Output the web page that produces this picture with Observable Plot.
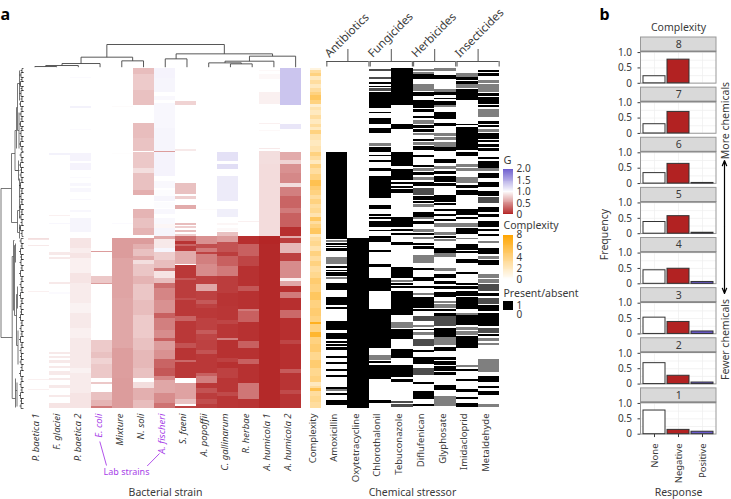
<!DOCTYPE html>
<html><head><meta charset="utf-8">
<script src="https://cdn.jsdelivr.net/npm/d3@7"></script>
<script src="https://cdn.jsdelivr.net/npm/@observablehq/plot@0.6"></script>
<style>
html,body{margin:0;padding:0;background:#fff}
#page{position:relative;width:731px;height:499px;overflow:hidden;background:#fff}
#page svg{position:absolute;left:0;top:0;background:transparent;max-width:none}
</style></head><body><div id="page"></div>
<script>
// ---------- DATA (row stripes: [firstRow, lastRow, value]; unlisted rows are neutral) ----------
const strains = ["P. baetica 1","F. glaciei","P. baetica 2","E. coli","Mixture","N. soli","A. fischeri","S. faeni","A. popoffii","C. gallinarum","R. herbae","A. humicola 1","A. humicola 2"];
const labStrains = ["E. coli","A. fischeri"];
const chemicals = ["Amoxicillin","Oxytetracycline","Chlorothalonil","Tebuconazole","Diflufenican","Glyphosate","Imidacloprid","Metaldehyde"];
const chemicalGroups = ["Antibiotics","Fungicides","Herbicides","Insecticides"];

const pBaetica1 = [[170,172,.85],[171,172,.88],[177,178,.9],[223,224,.93],[311,312,.93],[321,322,.93]];
const fGlaciei = [[85,87,1.08],[147,148,.93],[155,156,1.05],[184,187,.9],[189,191,.9],[214,216,.9],[224,226,1.03],[284,286,.9],[288,290,.9],[292,295,.9],[298,300,.9],[303,307,.9],[310,312,.9],[317,320,.9],[327,329,.9],[335,340,.88]];
const pBaetica2 = [[9,10,1.03],[38,40,1.08],[61,62,1.03],[85,93,1.07],[95,102,1.07],[109,110,1.03],[115,118,1.05],[120,124,1.05],[131,132,1.04],[142,144,1.05],[150,164,1.06],[170,180,.88],[180,185,.92],[185,190,.88],[190,205,.93],[205,215,.88],[215,235,.91],[235,245,.94],[245,260,.9],[260,270,.93],[270,300,.9],[300,305,.94],[305,325,.91],[325,340,.88]];
const eColi = [[183,184,.55],[208,215,.75],[215,216,.55],[272,284,.76],[284,290,.72],[290,296,.8],[296,310,.75],[314,316,.75],[324,332,.72],[332,338,.66],[338,340,.4]];
const mixture = [[38,39,.98],[85,86,.99],[155,156,1.03],[170,190,.55],[190,230,.59],[230,280,.6],[280,310,.56],[310,340,.55]];
const nSoli = [[0,6,.7],[6,22,.76],[22,37,.72],[55,70,.7],[70,83,.73],[84,100,.75],[100,105,.85],[105,122,.72],[122,127,.64],[141,150,.66],[150,160,.72],[160,167,.66],[170,176,.55],[176,181,.64],[181,188,.72],[188,192,.6],[192,196,.85],[196,208,.74],[208,216,.66],[216,232,.74],[232,247,.7],[247,270,.76],[270,282,.72],[282,300,.68],[300,310,.72],[314,320,.85],[320,332,.64],[332,340,.7]];
const aFischeri = [[0,10,1.07],[10,24,1.06],[28,32,1.04],[35,60,1.05],[60,83,1.06],[83,84,.55],[84,108,1.07],[113,120,1.04],[122,128,1.02],[128,133,1.06],[134,140,1.02],[141,146,1.05],[146,150,1.0],[150,156,1.04],[156,160,.96],[160,168,1.06],[168,171,.62],[171,180,.9],[180,184,1.06],[184,192,.78],[192,200,.7],[200,203,.42],[203,210,.88],[210,215,.7],[215,220,.34],[220,232,.45],[232,245,.5],[245,250,.28],[250,262,.42],[262,270,.48],[270,273,.28],[273,282,.55],[282,291,.5],[291,300,.3],[300,308,.24],[308,312,.45],[312,325,.6],[325,335,.48],[335,340,.36]];
const sFaeni = [[33,37,.8],[81,83,.9],[115,126,.72],[128,131,.78],[137,141,.62],[155,157,.7],[158,160,.78],[162,164,.7],[166,168,.78],[168,173,.35],[173,176,.08],[176,178,.3],[178,183,.12],[183,196,.62],[197,210,.1],[210,212,.25],[212,230,.12],[230,232,.2],[232,248,.1],[248,253,.3],[253,275,.1],[275,280,.22],[280,292,.08],[292,294,.32],[294,310,.1],[310,315,1],[315,331,.58],[331,336,.72],[336,338,1],[338,340,.15]];
const aPopoffii = [[141,142,.98],[168,176,.5],[176,180,.2],[180,184,.4],[184,186,.15],[186,196,.42],[196,208,.48],[208,216,.14],[216,223,.6],[223,232,.14],[232,236,.25],[236,240,.14],[240,250,.1],[250,262,.14],[262,266,.26],[266,272,.16],[272,282,.14],[282,286,.22],[286,305,.1],[305,308,.28],[308,315,.42],[315,320,.1],[320,325,.22],[325,331,.12],[331,336,.2],[336,340,.12]];
const cGallinarum = [[84,93,1.18],[96,101,1.2],[108,133,1.12],[141,149,1.1],[155,157,.96],[160,163,.97],[164,168,.72],[168,174,.55],[174,184,.22],[184,188,.12],[188,198,.28],[198,208,.4],[208,225,.12],[225,238,.08],[238,252,.09],[252,256,.16],[256,270,.09],[270,272,.42],[272,290,.07],[290,294,.14],[294,300,.07],[300,310,.14],[310,324,.09],[324,328,.18],[328,340,.09]];
const rHerbae = [[153,154,.93],[168,176,.06],[176,188,.28],[188,198,.16],[198,218,.07],[218,223,.24],[223,241,.07],[241,243,.4],[243,254,.28],[254,273,.07],[273,280,.28],[280,291,.07],[291,296,.28],[296,315,.07],[315,331,.38],[331,340,.08]];
const aHumicola1 = [[2,3,.97],[6,11,.97],[24,36,.93],[55,56,.93],[62,63,.97],[80,81,.9],[83,96,.85],[96,168,.84],[168,176,.02],[176,340,.03]];
const aHumicola2 = [[0,37,1.35],[56,61,1.15],[84,92,.62],[92,96,.8],[96,105,.5],[105,115,.46],[115,119,.85],[119,128,.42],[128,140,.3],[140,145,.4],[145,159,.28],[159,168,.06],[168,170,.62],[170,175,.12],[175,185,.68],[185,193,.14],[193,210,.48],[210,213,.93],[213,218,.6],[218,224,.06],[224,230,.4],[230,242,.06],[242,250,.32],[250,272,.06],[272,276,.16],[276,301,.06],[301,305,.26],[305,322,.08],[322,326,.18],[326,340,.08]];
const strainStripes = [pBaetica1,fGlaciei,pBaetica2,eColi,mixture,nSoli,aFischeri,sFaeni,aPopoffii,cGallinarum,rHerbae,aHumicola1,aHumicola2];

const complexityStripes = [[0,2,1],[2,5,3],[5,8,4],[8,12,2],[12,16,3],[16,20,2],[20,24,3],[24,27,4],[27,32,5],[32,36,4],[36,39,1.5],[39,42,2.5],[42,47,2],[47,51,3],[51,56,2],[56,59,3],[59,62,2],[62,66,4],[66,72,2.5],[72,78,2],[78,84,2.5],[84,88,4],[88,92,3],[92,96,2],[96,100,4],[100,106,3],[106,112,4],[112,118,5.5],[118,122,4.5],[122,127,4],[127,131,3],[131,136,4],[136,140,3],[140,145,3.5],[145,149,2.5],[149,153,5],[153,156,3],[156,160,4],[160,166,5],[166,169,2],[169,173,3],[173,178,3.5],[178,183,2.5],[183,188,4],[188,193,3],[193,198,4],[198,204,3],[204,210,3.5],[210,216,4.5],[216,224,4],[224,232,5],[232,240,4],[240,248,4.5],[248,254,4],[254,256,7],[256,264,4],[264,269,6.5],[269,276,4],[276,284,4.5],[284,292,3.5],[292,300,4.5],[300,308,3.5],[308,314,4],[314,318,2],[318,320,3],[320,323,5.5],[323,328,3],[328,334,3.5],[334,340,3]];

// present rows; third value marks bands of rows too fine to tell apart
const amoxicillin = [[84,171],[172,174,.5],[175,177],[178,179],[180,183],[189,196,.5],[198,200],[202,203],[204,208],[209,211,.5],[215,222],[229,237],[239,241],[253,262],[265,271],[273,275],[276,278],[279,282],[288,290],[294,296],[301,303],[307,309],[319,321],[321,323,.5],[325,327],[332,337]];
const oxytetracycline = [[170,340]];
const chlorothalonil = [[1,3,.7],[9,11,.7],[14,16],[18,19],[20,23,.7],[24,40],[44,45],[50,56],[60,65],[75,78,.5],[79,84],[87,88],[92,94],[100,103],[108,130],[137,141],[146,148],[149,151],[153,159],[162,163],[168,174],[182,184],[196,199],[210,223],[241,280],[287,292,.5],[293,295],[297,311],[332,335]];
const tebuconazole = [[0,37],[56,61],[84,98],[101,112],[114,116],[118,120],[121,125],[149,153],[153,159],[161,163],[165,167],[174,177],[199,210],[212,214,.5],[215,217],[218,220],[223,247],[254,260,.5],[261,271],[281,290],[297,309],[311,314],[333,335,.7],[336,339,.7]];
const diflufenican = [[1,3,.5],[4,6,.5],[6,11],[16,23,.5],[24,28],[32,35],[35,40],[41,44],[48,50],[52,56,.5],[57,60],[61,64],[65,67,.5],[71,73],[74,77,.5],[78,82],[87,89],[97,99],[100,103,.5],[104,107],[109,112,.5],[114,118],[120,127,.7],[128,132],[133,135],[136,139,.5],[144,149],[149,151,.5],[153,156],[161,164,.5],[165,167],[169,171,.5],[175,177],[178,181],[187,195,.5],[200,202],[209,213],[218,220],[225,227,.5],[229,240],[241,243],[248,253,.7],[257,259,.5],[261,262],[264,267,.5],[271,278,.7],[282,284],[289,296],[300,307,.7],[314,316],[323,331],[336,338]];
const glyphosate = [[0,3,.5],[7,11],[21,24,.5],[24,27],[30,31],[33,37],[37,39,.5],[44,51],[55,58],[65,68,.5],[69,72,.5],[74,79,.5],[79,83],[91,95],[98,101,.5],[103,106],[108,114],[115,118],[127,134],[135,137],[141,143],[146,148],[151,153],[155,159,.5],[164,167,.5],[168,170],[171,173,.5],[180,185],[185,189,.5],[200,203,.5],[206,210],[213,216],[218,221],[224,229],[233,235,.5],[236,240,.5],[241,243],[245,248],[248,258,.7],[260,269],[269,277,.5],[279,283],[289,292],[293,297],[298,303],[304,307],[317,322],[328,334,.5],[334,338,.5]];
const imidacloprid = [[5,9,.5],[9,12],[13,16],[16,20,.5],[21,32],[56,57],[59,82],[84,88],[96,99,.5],[100,103,.5],[109,115,.5],[117,120],[122,127],[141,147],[149,151],[155,159,.5],[160,166],[170,171,.5],[176,182],[183,185],[191,195],[204,206],[215,217],[218,221],[223,228],[229,241],[245,247,.5],[247,257],[259,262,.5],[263,267,.5],[268,280],[297,299,.5],[301,303],[311,313],[321,324],[329,331],[335,339]];
const metaldehyde = [[2,4],[5,8],[12,15,.5],[16,24,.5],[25,28],[29,36],[37,39],[41,49,.5],[53,56],[57,59],[61,64,.5],[65,71],[72,74],[76,79],[80,83],[89,91],[93,100],[100,103,.5],[105,110],[114,117],[117,119],[123,128],[129,135,.7],[139,144],[146,149],[153,159],[161,163],[166,168],[173,175,.5],[180,186],[188,191,.5],[192,197],[206,210,.5],[211,215,.5],[216,223,.7],[225,228],[230,236,.7],[237,243],[245,258],[260,265,.7],[266,268],[270,273,.5],[275,277,.5],[291,304,.5],[308,314],[318,320],[323,327],[336,339,.5]];
const chemicalStripes = [amoxicillin,oxytetracycline,chlorothalonil,tebuconazole,diflufenican,glyphosate,imidacloprid,metaldehyde];

// column dendrogram: [left, right, height]; left/right are column numbers or "m"+merge number
const columnMerges = [[0,1,2],[ "m0",2,5],["m1",3,11],[4,5,19],["m2","m3",30],[6,7,25],[9,10,10],[8,"m6",13],["m7",11,18],["m8",12,33],["m5","m9",40],["m4","m10",68]];
// row dendrogram clades: [height, firstRow, lastRow, parentHeight, stemRow]
const rowClades = [
 [22.5,120,269,22.5,120],[12,85,154,22.5,120],[8.5,62,102,12,85],[7,39,80,8.5,62],[6,15,62,7,39],[4,2,32,6,15],[4.5,44,80,6,62],
 [6,142,164,12,154],[4,130,150,6,142],[4,156,170,6,164],[5,92,112,8.5,102],[4,110,130,8.5,102],
 [11.3,188,330,22.5,269],[10,172,242,11.3,188],[9,177,247,10,172],[8,175,194,9,177],[7,226,277,9,247],[6,218,240,7,226],[5.5,262,296,7,277],[8,310,339,11.3,330],[6.5,314,338,8,322]];
// fringe of the row dendrogram next to the leaves: [firstRow, lastRow, height]
const rowFringe = [[0,4,1.5],[4,9,2.5],[9,13,1.5],[13,18,3],[18,22,1.5],[22,28,2.5],[28,33,1.5],[33,38,3],[38,43,1.5],[43,48,2.5],[48,53,1.5],[53,58,3],[58,62,1.5],[62,68,2.5],[68,73,1.5],[73,78,3],[78,83,1.5],[84,89,2.5],[89,94,1.5],[94,99,3],[99,104,2],[104,109,2.5],[109,114,1.5],[114,120,3],[120,125,1.5],[125,131,2.5],[131,136,1.5],[136,141,3],[141,146,1.5],[146,151,2.5],[151,157,1.5],[157,162,3],[162,168,1.5],[170,175,2.5],[175,180,1.5],[180,186,3],[186,191,2],[191,197,2.5],[197,202,1.5],[202,208,3],[208,213,1.5],[213,219,2.5],[219,224,1.5],[224,230,3],[230,235,1.5],[235,241,2.5],[241,246,2],[246,252,3],[252,257,1.5],[257,263,2.5],[263,268,1.5],[268,274,3],[274,279,1.5],[279,285,2.5],[285,291,2],[291,296,2.5],[296,302,1.5],[302,308,3],[308,313,1.5],[313,319,2.5],[319,324,1.5],[324,330,3],[330,335,2],[335,340,2.5]];

const gTicks = [0,.5,1,1.5,2];
const complexityTicks = [0,2,4,6,8];
const responses = ["None","Negative","Positive"];
const levels = [8,7,6,5,4,3,2,1];
const noneShare =     [.23,.30,.34,.38,.44,.53,.68,.77];
const negativeShare = [.77,.70,.64,.57,.49,.39,.27,.14];
const positiveShare = [0,0,.02,.03,.06,.08,.05,.08];

// ---------- LAYOUT AND STYLE ----------
const W = 731, H = 499, FONT = "'Noto Sans', sans-serif", INK = "#3a3a3a";
const RED = "#b22222", BLUE = "#6a5acd", ORANGE = "#ffa500";
const colL = 23.5, colR = 306, rowT = 68, rowB = 408;
const page = document.getElementById("page");
const base = {width:W, height:H, style:{fontFamily:FONT,color:INK}};
const add = o => page.appendChild(Plot.plot({...base, ...o}));
const rowScale = {domain:[0,340], range:[rowT,rowB], axis:null};
const gScale = {type:"linear", domain:[0,1,2], range:[RED,"#ffffff",BLUE]};
const cScale = {type:"linear", domain:[0,8], range:["#ffffff",ORANGE]};

// heat map of strains
const gBars = strains.flatMap((s,i)=>strainStripes[i].map(([a,b,v])=>({s,a,b,v})));
add({marginLeft:colL, marginRight:W-colR, marginTop:rowT, marginBottom:H-rowB,
  x:{domain:strains, axis:null, padding:0}, y:rowScale, color:gScale,
  marks:[
    Plot.barY(gBars,{x:"s",y1:"a",y2:"b",fill:"v",shapeRendering:"crispEdges"}),
    Plot.text(strains,{x:d=>d,frameAnchor:"bottom",dy:5,rotate:-90,textAnchor:"end",text:d=>d,fontSize:9.5,fontStyle:"italic",
      fill:d=>labStrains.includes(d)?"#a83fe8":INK})
  ]});

// complexity column
add({marginLeft:310, marginRight:W-321.5, marginTop:rowT, marginBottom:H-rowB,
  x:{domain:["Complexity"], axis:null, padding:0}, y:rowScale, color:cScale,
  marks:[
    Plot.barY(complexityStripes,{x:()=>"Complexity",y1:d=>d[0],y2:d=>d[1],fill:d=>d[2],shapeRendering:"crispEdges"}),
    Plot.text(["Complexity"],{x:d=>d,frameAnchor:"bottom",dy:5,rotate:-90,textAnchor:"end",text:d=>d,fontSize:9.5,fill:INK})
  ]});

// chemical presence
const chemRects = chemicals.flatMap((c,i)=>chemicalStripes[i].map(([a,b,l])=>({i,a,b,l:l??1})));
const groupIdx = chemicalGroups.map((g,i)=>i*2);
add({marginLeft:325.7, marginRight:W-499.3, marginTop:rowT, marginBottom:H-rowB,
  x:{domain:[0,8], axis:null}, y:rowScale,
  marks:[
    Plot.rect(chemRects,{x1:"i",x2:d=>d.i+1,y1:"a",y2:"b",fill:"#000",fillOpacity:"l",shapeRendering:"crispEdges"}),
    Plot.text(chemicals,{x:(d,i)=>i+.5,frameAnchor:"bottom",dy:5,rotate:-90,textAnchor:"end",text:d=>d,fontSize:9.5,fill:INK}),
    Plot.ruleY(groupIdx,{x1:d=>d+.03,x2:d=>d+1.97,y:-7,stroke:"#555",strokeWidth:1}),
    Plot.ruleX(groupIdx,{x:d=>d+.03,y1:-7,y2:-1.5,stroke:"#555",strokeWidth:1}),
    Plot.ruleX(groupIdx,{x:d=>d+1.97,y1:-7,y2:-1.5,stroke:"#555",strokeWidth:1}),
    Plot.ruleX(groupIdx,{x:d=>d+1,y1:-19,y2:-7,stroke:"#555",strokeWidth:1}),
    Plot.text(chemicalGroups,{x:(d,i)=>i*2+.03,y:-13,rotate:-45,textAnchor:"start",text:d=>d,fontSize:11.5,fill:INK})
  ]});

// column dendrogram
const nodes = new Map(), cLinks = [];
const pos = k => typeof k==="number" ? {x:k+.5,h:0} : nodes.get(k);
columnMerges.forEach(([l,r,h],i)=>{
  const a=pos(l), b=pos(r);
  cLinks.push({x1:a.x,x2:a.x,y1:a.h,y2:h},{x1:a.x,x2:b.x,y1:h,y2:h},{x1:b.x,x2:b.x,y1:b.h,y2:h});
  nodes.set("m"+i,{x:(a.x+b.x)/2,h});
});
add({marginLeft:colL, marginRight:W-colR, marginTop:44, marginBottom:H-66.7,
  x:{domain:[0,13],axis:null}, y:{domain:[0,68],axis:null},
  marks:[Plot.link(cLinks,{x1:"x1",x2:"x2",y1:"y1",y2:"y2",stroke:"#444",strokeWidth:.9})]});

// row dendrogram
const rLinks = rowClades.flatMap(([h,a,b,ph,st])=>[{x1:h,x2:h,y1:a,y2:b},{x1:h,x2:ph,y1:st,y2:st}]);
const fLinks = rowFringe.flatMap(([a,b,h])=>[{x1:h,x2:h,y1:a,y2:b},{x1:h,x2:0,y1:a,y2:a},{x1:h,x2:0,y1:b,y2:b},{x1:h,x2:h+1.5,y1:(a+b)/2,y2:(a+b)/2}]);
add({marginLeft:0, marginRight:W-23, marginTop:rowT, marginBottom:H-rowB,
  x:{domain:[23,0],axis:null}, y:rowScale,
  marks:[
    Plot.link(rLinks,{x1:"x1",x2:"x2",y1:"y1",y2:"y2",stroke:"#555",strokeWidth:.8}),
    Plot.link(fLinks,{x1:"x1",x2:"x2",y1:"y1",y2:"y2",stroke:"#222",strokeWidth:.7})
  ]});

// G legend
const gSteps = d3.range(0,2,.04);
add({marginLeft:503, marginRight:W-513, marginTop:167, marginBottom:H-216,
  x:{axis:null,domain:[0,1]}, y:{domain:[-.07,2.07],axis:null}, color:gScale,
  marks:[
    Plot.rect(gSteps,{x1:0,x2:1,y1:d=>d,y2:d=>d+.041,fill:d=>d+.02,shapeRendering:"crispEdges"}),
    Plot.text(gTicks,{x:1,y:d=>d,dx:3,textAnchor:"start",text:d=>d===0?"0":d.toFixed(1),fontSize:10,fill:INK})
  ]});
// complexity legend
const cSteps = d3.range(0,8,.16);
add({marginLeft:503, marginRight:W-513, marginTop:232, marginBottom:H-282,
  x:{axis:null,domain:[0,1]}, y:{domain:[-.5,8.5],axis:null}, color:cScale,
  marks:[
    Plot.rect(cSteps,{x1:0,x2:1,y1:d=>d,y2:d=>d+.165,fill:d=>d+.08,shapeRendering:"crispEdges"}),
    Plot.text(complexityTicks,{x:1,y:d=>d,dx:3,textAnchor:"start",text:String,fontSize:10,fill:INK})
  ]});
// present/absent legend
add({marginLeft:503, marginRight:W-513, marginTop:300.5, marginBottom:H-318.5,
  x:{axis:null,domain:[0,1]}, y:{domain:["1","0"],axis:null,padding:0},
  marks:[
    Plot.barX(["1"],{x1:0,x2:1,y:d=>d,fill:"#000"}),
    Plot.text(["1","0"],{x:1,y:d=>d,dx:3,textAnchor:"start",text:d=>d,fontSize:10,fill:INK})
  ]});

// panel b: response frequency per complexity level
const shares = levels.flatMap((c,i)=>[
  {c,r:"None",f:noneShare[i]},{c,r:"Negative",f:negativeShare[i]},{c,r:"Positive",f:positiveShare[i]}]).filter(d=>d.f>0);
const fillOf = {None:"#ffffff",Negative:RED,Positive:BLUE};
const lastLevel = levels[levels.length-1];
add({marginLeft:640.5, marginRight:W-716, marginTop:37, marginBottom:H-434,
  fy:{domain:levels,axis:null,paddingInner:.08,paddingOuter:0,round:false},
  x:{domain:responses,paddingInner:.08,paddingOuter:.1,axis:null},
  y:{domain:[-.01,1.49],ticks:[0,.5,1],tickFormat:d=>d===0?"0":d.toFixed(1),label:null,tickSize:3},
  marks:[
    Plot.ruleY(levels.flatMap(c=>[0,.25,.5,.75,1].map(y=>({c,y}))),{fy:"c",y:"y",stroke:"#eeeeee",strokeWidth:.7}),
    Plot.ruleX(levels.flatMap(c=>responses.map(r=>({c,r}))),{fy:"c",x:"r",y1:0,y2:1.03,stroke:"#eeeeee",strokeWidth:.7}),
    Plot.rect(levels,{fy:d=>d,y1:1.03,y2:1.49,fill:"#d9d9d9",stroke:"#999",strokeWidth:1}),
    Plot.rect(levels,{fy:d=>d,y1:-.01,y2:1.03,fill:"none",stroke:"#999",strokeWidth:1}),
    Plot.ruleY(levels,{fy:d=>d,y:1.03,stroke:"#888",strokeWidth:1.4}),
    Plot.barY(shares,{fy:"c",x:"r",y:"f",fill:d=>fillOf[d.r],stroke:"#333",strokeWidth:1}),
    Plot.text(levels,{fy:d=>d,y:1.26,frameAnchor:"middle",text:String,fontSize:10.5,fill:INK}),
    Plot.ruleX(responses,{fy:()=>lastLevel,x:d=>d,y1:-.01,y2:-.11,stroke:INK,strokeWidth:1}),
    Plot.text(responses,{fy:()=>lastLevel,x:d=>d,y:-.01,dy:9,rotate:-90,textAnchor:"end",text:d=>d,fontSize:9.5,fill:INK})
  ]});

// titles and annotations
const panelLetters = [{t:"a",x:0,y:14},{t:"b",x:599,y:14}];
const legendTitles = [{t:"G",x:503,y:160,size:11},{t:"Complexity",x:503,y:225,size:10.5},{t:"Present/absent",x:503,y:293,size:10.5}];
const centredNotes = [
  {t:"Bacterial strain",x:165,y:492,size:10.5},
  {t:"Chemical stressor",x:412,y:492,size:10.5},
  {t:"Response",x:678,y:492,size:10.5},
  {t:"Complexity",x:678,y:27,size:10.5}
];
const uprightNotes = [
  {t:"Frequency",x:604,y:234},
  {t:"More chemicals",x:725,y:120},
  {t:"Fewer chemicals",x:725,y:339}
];
const labLines = [{x1:99.3,y1:441,x2:106,y2:465},{x1:159,y1:453,x2:146.7,y2:465.5}];
const arrows = [{x1:724,y1:226,x2:724,y2:160},{x1:724,y1:226,x2:724,y2:293}];
add({margin:0, x:{type:"identity"}, y:{type:"identity"},
  marks:[
    Plot.text(panelLetters,{x:"x",y:"y",text:"t",fontSize:16,fontWeight:"bold",textAnchor:"start",fill:"#000"}),
    Plot.text(legendTitles,{x:"x",y:"y",text:"t",fontSize:d=>d.size,textAnchor:"start",fill:INK}),
    Plot.text(centredNotes,{x:"x",y:"y",text:"t",fontSize:d=>d.size,fill:INK}),
    Plot.text(uprightNotes,{x:"x",y:"y",text:"t",fontSize:10.5,rotate:-90,fill:INK}),
    Plot.text(["Lab strains"],{x:()=>126,y:()=>472,text:d=>d,fontSize:9,fill:"#a83fe8"}),
    Plot.link(labLines,{x1:"x1",y1:"y1",x2:"x2",y2:"y2",stroke:"#a83fe8",strokeWidth:.9}),
    Plot.arrow(arrows,{x1:"x1",y1:"y1",x2:"x2",y2:"y2",stroke:"#000",strokeWidth:1.2,headLength:7,headAngle:45})
  ]});
</script></body></html>
